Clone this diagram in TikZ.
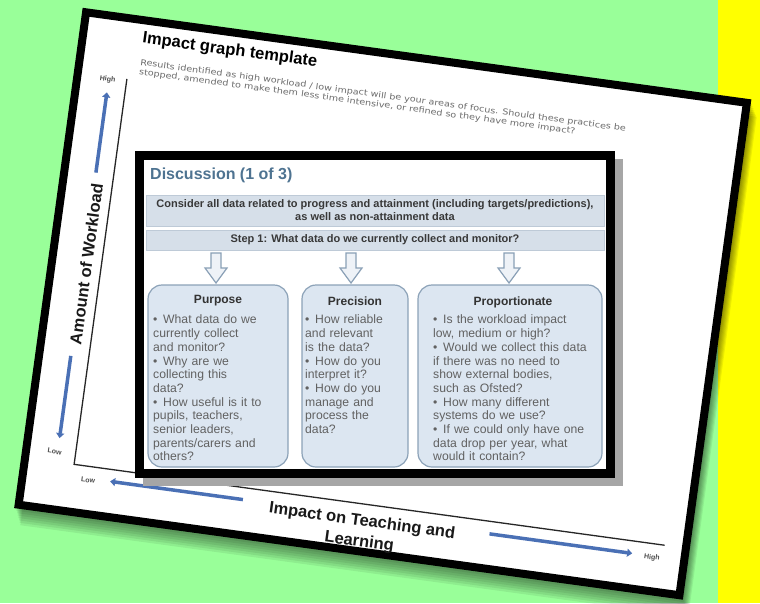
\documentclass[tikz,border=0pt]{standalone}
\usepackage{fontspec}
\setmainfont{Liberation Sans}
\newfontfamily\dejavuw[FakeStretch=1.17]{DejaVu Sans}
\usetikzlibrary{arrows.meta}
\definecolor{bggreen}{RGB}{153,255,153}
\definecolor{yel}{RGB}{255,255,0}
\definecolor{axisblue}{RGB}{74,112,181}
\definecolor{discblue}{RGB}{78,115,145}
\definecolor{barfill}{RGB}{214,223,233}
\definecolor{barline}{RGB}{190,202,215}
\definecolor{boxfill}{RGB}{220,230,241}
\definecolor{boxline}{RGB}{140,162,184}
\definecolor{arrfill}{RGB}{238,242,247}
\definecolor{arrline}{RGB}{138,160,182}
\newcommand{\bitem}[1]{\par\hangindent=10pt\hangafter=1\noindent\makebox[10pt][l]{•}#1}
\tikzset{
  card/.style={draw=black, line width=8pt, fill=white},
  axisline/.style={line width=1.3pt, black!85},
  bluearrow/.style={line width=3.5pt, color=axisblue, -{Triangle[length=5pt,width=8pt]}},
  axislabel/.style={font=\bfseries\fontsize{7}{8}\selectfont, text=black!70, inner sep=0},
  bigaxis/.style={font=\bfseries\fontsize{16.5}{21}\selectfont, text=black!90, inner sep=0, align=center},
  bar/.style={draw=barline, fill=barfill, line width=0.8pt, inner sep=1pt, align=center,
    font=\bfseries\fontsize{11}{13}\selectfont, text=black!78},
  blockarrow/.style={draw=arrline, fill=arrfill, line width=1.2pt, line join=miter},
  qbox/.style={draw=boxline, fill=boxfill, line width=1.2pt, rounded corners=14pt},
  qtitle/.style={font=\bfseries\fontsize{12}{14}\selectfont, text=black!80, inner sep=0},
  qtext/.style={font=\fontsize{12.2}{13.7}\selectfont, text=black!62, align=left, inner sep=0, anchor=north west}
}
\begin{document}
\begin{tikzpicture}[x=1pt,y=-1pt]
\useasboundingbox (0,0) rectangle (760,603);
\fill[bggreen] (0,0) rectangle (760,603);
\fill[yel] (718,0) rectangle (760,603);

% rotated card
\begin{scope}[shift={(382.75,303.75)}, rotate=-7.8, transform shape]
  \foreach \k in {1,...,7}
    \fill[black, opacity=0.07] (-336+\k, -250+2*\k) rectangle (337.5+1.1*\k, 252.5+2.3*\k);
  \draw[card] (-333.5,-248.5) rectangle (333.5,248.5);
  \node[anchor=west, inner sep=0, font=\bfseries\fontsize{16.5}{19}\selectfont] (ctitle) at (-274,-230) {Impact graph template};
  \node[anchor=north west, inner sep=0, align=left, text=black!58, font=\dejavuw\fontsize{8.2}{9.4}\selectfont] (csub) at (-273,-210)
    {Results identified as high workload / low impact will be your areas of focus. Should these practices be\\
     stopped, amended to make them less time intensive, or refined so they have more impact?};
  \coordinate (ytop) at (-284,-188);
  \coordinate (orig) at (-284,201);
  \coordinate (xend) at (312,201);
  \draw[axisline] (ytop) -- (orig) -- (xend);
  \node[axislabel] (yhigh) at (-303,-185) {High};
  \node[axislabel] (ylow) at (-305,191) {Low};
  \node[axislabel] (xlow) at (-268,215) {Low};
  \node[axislabel] (xhigh) at (301,215) {High};
  \coordinate (ua0) at (-302,-91);  \coordinate (ua1) at (-302,-172);
  \coordinate (da0) at (-302,94);   \coordinate (da1) at (-302,177);
  \coordinate (la0) at (-112,213);  \coordinate (la1) at (-246,213);
  \coordinate (ra0) at (137,213.5); \coordinate (ra1) at (281,213.5);
  \draw[bluearrow] (ua0) -- (ua1);
  \draw[bluearrow] (da0) -- (da1);
  \draw[bluearrow] (la0) -- (la1);
  \draw[bluearrow] (ra0) -- (ra1);
  \node[bigaxis, rotate=90] (yname) at (-299,1) {Amount of Workload};
  \node[bigaxis] (xname) at (9,229) {Impact on Teaching and\\Learning};
\end{scope}

% discussion panel
\fill[black!35] (143,159) rectangle (623,486);
\draw[line width=9pt, fill=white] (139.5,155.5) rectangle (610.5,473.5);
\node[anchor=west, inner sep=0, text=discblue, font=\bfseries\fontsize{16}{19}\selectfont] (disc) at (150,175) {Discussion (1 of 3)};
\node[bar, minimum width=458pt, minimum height=31pt] (consider) at (375,210.5)
  {Consider all data related to progress and attainment (including targets/predictions),\\ as well as non-attainment data};
\node[bar, minimum width=458pt, minimum height=20pt] (step) at (375,240)
  {Step 1: What data do we currently collect and monitor?};

\foreach \cx in {216,351,509}
  \draw[blockarrow] (\cx-5,253) -- (\cx+5,253) -- (\cx+5,268) -- (\cx+11,268) -- (\cx,283) -- (\cx-11,268) -- (\cx-5,268) -- cycle;

\draw[qbox] (148,285) rectangle (288,467);
\draw[qbox] (302,285) rectangle (408,467);
\draw[qbox] (418,285) rectangle (602,467);

\node[qtitle] (tpur) at (218,301) {Purpose};
\node[qtitle] (tpre) at (355,301) {Precision};
\node[qtitle] (tpro) at (513,302) {Proportionate};

\node[qtext, text width=133pt] (pur) at (153,310) {%
\bitem{What data do we\\currently collect\\and monitor?}
\bitem{Why are we\\collecting this\\data?}
\bitem{How useful is it to\\pupils, teachers,\\senior leaders,\\parents/carers and\\others?}};
\node[qtext, text width=104pt] (pre) at (305,310) {%
\bitem{How reliable\\and relevant\\is the data?}
\bitem{How do you\\interpret it?}
\bitem{How do you\\manage and\\process the\\data?}};
\node[qtext, text width=168pt] (pro) at (433,310) {%
\bitem{Is the workload impact\\low, medium or high?}
\bitem{Would we collect this data\\if there was no need to\\show external bodies,\\such as Ofsted?}
\bitem{How many different\\systems do we use?}
\bitem{If we could only have one\\data drop per year, what\\would it contain?}};
\end{tikzpicture}
\end{document}
